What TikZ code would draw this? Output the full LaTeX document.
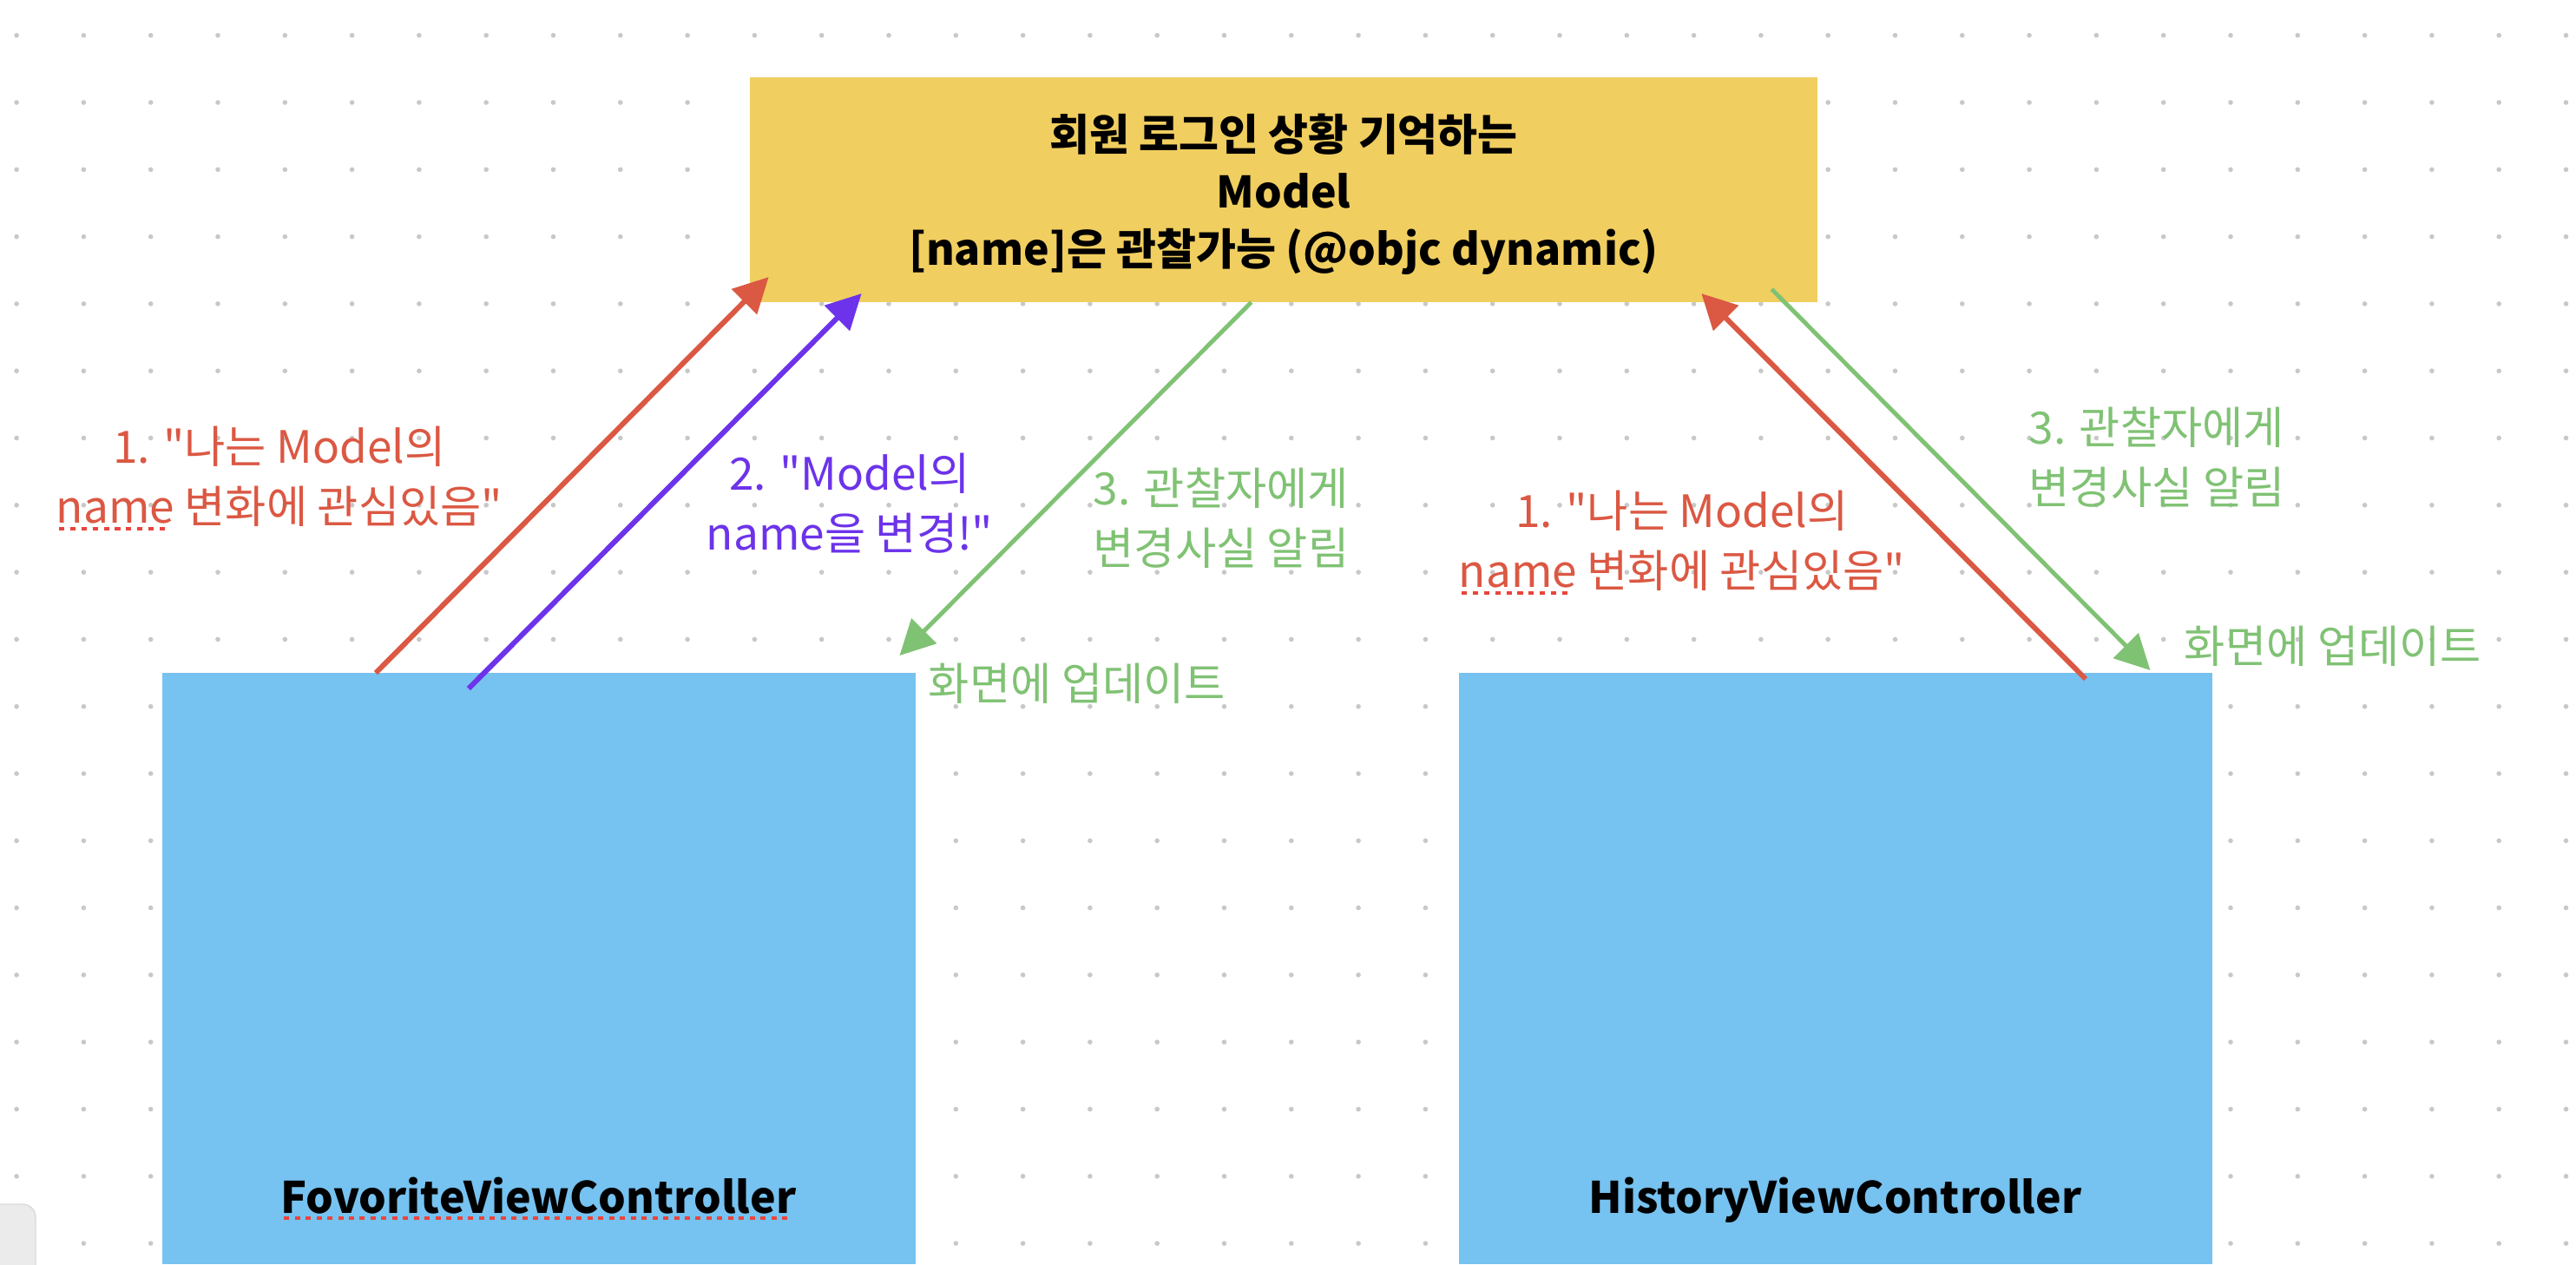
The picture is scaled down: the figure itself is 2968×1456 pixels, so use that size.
\documentclass[tikz,border=0pt]{standalone}
\usepackage{fontspec}
\setmainfont{Noto Sans CJK KR}[Ligatures=TeXOff]
\usetikzlibrary{arrows.meta,calc}
\definecolor{cred}{RGB}{219,88,67}
\definecolor{cpurple}{RGB}{108,51,234}
\definecolor{cgreen}{RGB}{128,194,116}
\definecolor{cyellow}{RGB}{240,206,96}
\definecolor{cblue}{RGB}{118,194,240}
\definecolor{cdot}{RGB}{200,200,200}
\definecolor{csq}{RGB}{232,69,60}
\newcommand\spellerr[1]{\setbox0=\hbox{#1}\rlap{\color{csq}\raisebox{-0.16em}{\hbox to \wd0{\leaders\hbox to 0.25em{\hss\rule{0.12em}{0.08em}\hss}\hfill}}}\box0\relax}
\begin{document}
\begin{tikzpicture}[x=0.01cm,y=-0.01cm,
  box/.style={draw=none, inner sep=0, outer sep=0},
  modelbox/.style={box, fill=cyellow, minimum width=12.30cm, minimum height=2.59cm},
  vcbox/.style={box, fill=cblue, minimum width=8.67cm, minimum height=6.81cm, anchor=north west},
  lbl/.style={inner sep=0, align=center, font=\fontsize{14.6pt}{19.6pt}\selectfont},
  vclbl/.style={inner sep=0, anchor=base, font=\bfseries\fontsize{14.2pt}{17pt}\selectfont},
  arr/.style={line width=1.7pt, -{Triangle[length=11.4pt,width=11.4pt]}},
  garr/.style={arr, line width=1.4pt}]
\clip (0,0) rectangle (2968,1456);
\fill[white] (0,0) rectangle (2968,1456);
% dot grid
\foreach \i in {0,...,38}
  \foreach \j in {0,...,18}
    \fill[cdot] ({19.1+77.3*\i},{40.7+77.3*\j}) circle[radius=0.028cm];
% grey UI corner element
\draw[gray!30, fill=gray!16, rounded corners=0.15cm] (-50,1387) rectangle (41,1520);
% boxes
\node[modelbox] (model) at (1479,218.5) {};
\node[inner sep=0, align=center, font=\bfseries\fontsize{14.2pt}{18.8pt}\selectfont] (modeltxt) at (1479,224)
  {회원 로그인 상황 기억하는\\Model\\{}[name]은 관찰가능 (@objc dynamic)};
\node[vcbox] (fav) at (187,775) {};
\node[vcbox] (hist) at (1681,775) {};
\node[vclbl] (favtxt) at (620.5,1397) {\spellerr{FovoriteViewController}};
\node[vclbl] (histtxt) at (2114.5,1397) {HistoryViewController};
% labels
\node[lbl, text=cred] (l1) at (322,551) {1. "나는 Model의\\\spellerr{name} 변화에 관심있음"};
\node[lbl, text=cpurple] (l2) at (979,580) {2. "Model의\\name을 변경!"};
\node[lbl, text=cgreen] (l3) at (1407,597) {3. 관찰자에게\\변경사실 알림};
\node[lbl, text=cgreen, anchor=base] (u1) at (1241,806) {화면에 업데이트};
\node[lbl, text=cred] (l4) at (1938,625) {1. "나는 Model의\\\spellerr{name} 변화에 관심있음"};
\node[lbl, text=cgreen] (l5) at (2485,527) {3. 관찰자에게\\변경사실 알림};
\node[lbl, text=cgreen, anchor=base] (u2) at (2688,763) {화면에 업데이트};
% arrows
\draw[arr, cred] ($(fav.north west)+(246,0)$) -- ($(model.south west)+(22,-29)$);
\draw[arr, cpurple] ($(fav.north west)+(353,18)$) -- ($(model.south west)+(129,-10)$);
\draw[garr, cgreen] ($(model.south west)+(578,0)$) -- ($(fav.north east)+(-18,-20)$);
\draw[arr, cred] ($(hist.north west)+(722,7)$) -- ($(model.south east)+(-134,-10)$);
\draw[garr, cgreen] ($(model.south east)+(-53,-15)$) -- ($(hist.north east)+(-71,-3)$);
\end{tikzpicture}
\end{document}
